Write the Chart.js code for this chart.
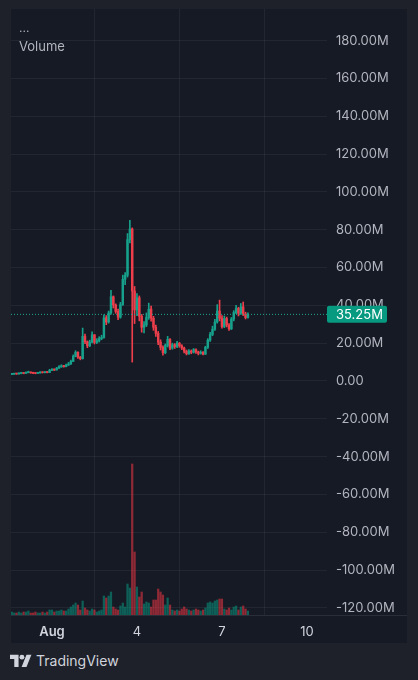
<!DOCTYPE html>
<html>
<head>
<meta charset="utf-8">
<script src="https://cdn.jsdelivr.net/npm/chart.js@4.4.1/dist/chart.umd.min.js"></script>
<style>
  body { margin: 0; width: 418px; height: 680px; overflow: hidden; background: #1e212a; font-family: Inter, "Noto Sans", sans-serif; }
  #panel { position: absolute; left: 11px; top: 9px; width: 396px; height: 634px; background: #161a24; }
  #chart { position: absolute; left: 0; top: 0; }
  .dots { position: absolute; left: 8px; top: 12px; color: #b2b5be; font-size: 12px; line-height: 14px; }
  .title { position: absolute; left: 8px; top: 29px; color: #b2b5be; font-size: 13px; line-height: 16px; }
  .brand { position: absolute; left: 10px; top: 652px; display: flex; align-items: center; color: #d1d4dc; font-size: 14px; }
  .brand svg { margin-right: 4px; }
</style>
</head>
<body>
<div id="panel">
  <canvas id="chart" width="396" height="634"></canvas>
  <div class="dots">...</div>
  <div class="title">Volume</div>
</div>
<div class="brand">
  <svg width="22" height="13" viewBox="0 0 36 21">
    <path d="M14 21H7V8H0V1h14z" fill="#d1d4dc"/>
    <circle cx="19.5" cy="5" r="4" fill="#d1d4dc"/>
    <path d="M27 21h-8L27 1h8z" fill="#d1d4dc"/>
  </svg>
  <span>TradingView</span>
</div>

<script>
// 2-hour candles, x = hours since Aug 1 00:00
const startHour = -34;
const stepHours = 2;

const closes = [
  3.6, 3.8, 3.7, 3.9, 4.2, 4.0, 4.4, 4.6, 4.3, 4.1,
  4.0, 4.3, 4.5, 4.4, 4.6, 4.5, 5.6, 6.0, 5.8, 6.8,
  7.5, 8.0, 7.6, 8.4, 9.0, 10.4, 13.0, 15.2, 12.6, 11.8,
  23.6, 20.8, 18.6, 20.6, 24.4, 20.4, 21.2, 22.4, 23.0, 33.4,
  31.2, 36.0, 44.6, 40.2, 36.8, 33.8, 40.4, 53.8, 56.0, 74.8,
  80.4, 47.6, 37.6, 44.0, 34.2, 28.4, 29.6, 33.6, 38.0, 33.2,
  28.4, 25.2, 20.6, 17.8, 15.0, 18.8, 22.0, 17.4, 19.2, 18.2,
  20.0, 18.6, 17.4, 15.8, 14.4, 15.8, 15.2, 16.6, 15.4, 14.6,
  15.2, 14.2, 17.8, 21.6, 24.6, 27.4, 31.2, 37.0, 33.2, 28.8,
  33.0, 29.6, 27.6, 32.8, 36.2, 38.4, 35.8, 39.2, 35.4, 33.6,
  35.25
];
const highs = [
  4.0, 4.1, 4.0, 4.3, 4.6, 4.4, 4.8, 5.2, 4.7, 4.5,
  4.3, 4.6, 4.8, 4.8, 5.0, 4.9, 6.2, 6.6, 6.4, 7.2,
  8.2, 8.6, 8.3, 9.0, 9.8, 11.0, 13.8, 16.0, 15.4, 13.0,
  28.0, 24.8, 21.2, 21.6, 26.0, 24.6, 22.4, 23.4, 24.2, 35.0,
  34.6, 37.0, 48.0, 45.0, 40.8, 38.0, 41.6, 56.0, 57.4, 78.0,
  85.0, 81.0, 50.0, 46.2, 45.0, 35.2, 31.4, 36.0, 41.2, 39.6,
  34.2, 29.6, 26.2, 21.8, 18.6, 19.6, 23.6, 22.4, 20.0, 19.8,
  21.0, 20.4, 19.2, 18.0, 16.4, 16.6, 16.4, 17.2, 17.0, 15.8,
  16.0, 15.6, 18.4, 22.4, 25.8, 29.0, 32.6, 40.4, 42.8, 34.6,
  34.4, 33.8, 30.4, 33.6, 37.2, 40.0, 39.0, 41.0, 41.8, 36.4,
  36.0
];
const lows = [
  3.4, 3.5, 3.5, 3.6, 3.8, 3.8, 4.0, 4.3, 4.1, 3.9,
  3.8, 4.0, 4.2, 4.2, 4.3, 4.3, 4.5, 5.4, 5.5, 5.8,
  6.7, 7.2, 7.3, 7.5, 8.2, 8.8, 10.2, 12.8, 12.0, 11.2,
  11.6, 19.8, 17.6, 18.2, 20.2, 19.6, 19.8, 20.6, 21.8, 22.6,
  29.8, 30.6, 35.4, 38.6, 35.8, 32.4, 33.2, 40.0, 51.0, 55.0,
  73.0, 10.0, 30.4, 34.6, 31.8, 25.8, 25.4, 28.8, 32.6, 31.6,
  26.8, 23.6, 19.2, 16.4, 13.6, 14.4, 18.0, 16.6, 16.8, 17.2,
  17.6, 17.8, 16.6, 14.8, 13.8, 14.0, 14.4, 14.8, 14.6, 13.8,
  14.2, 13.8, 14.0, 17.2, 21.0, 24.0, 26.8, 30.6, 31.8, 28.0,
  28.2, 28.6, 26.8, 27.2, 31.8, 35.6, 34.4, 35.2, 34.6, 32.8,
  33.2
];
const volumes = [
  3, 2, 2, 3, 2, 3, 3, 4, 2, 2,
  3, 2, 2, 3, 2, 3, 5, 5, 3, 4,
  4, 5, 4, 4, 6, 8, 10, 12, 10, 5,
  14, 7, 5, 4, 6, 5, 3, 4, 5, 19,
  17, 19, 23, 8, 6, 5, 9, 12, 8, 31,
  27, 151, 63, 28, 18, 23, 11, 13, 12, 8,
  15, 15, 26, 23, 20, 10, 17, 10, 5, 4,
  5, 4, 6, 8, 6, 5, 4, 5, 6, 5,
  4, 5, 7, 12, 13, 12, 14, 15, 16, 16,
  6, 5, 7, 5, 8, 9, 5, 8, 9, 6,
  4
];
const firstOpen = 3.5;

const priceTicks = [-120, -100, -80, -60, -40, -20, 0, 20, 40, 60, 80, 100, 120, 140, 160, 180];
const xTickHours = [0, 72, 144, 216];
const xTickLabels = ['Aug', '4', '7', '10'];

const upColor = '#17a08b';
const downColor = '#ec3f4b';
const upVol = 'rgba(8, 153, 129, 0.55)';
const downVol = 'rgba(242, 54, 69, 0.55)';

const hours = closes.map((_, i) => startHour + i * stepHours);
const opens = closes.map((_, i) => i === 0 ? firstOpen : closes[i - 1]);
const isUp = i => closes[i] >= opens[i];
const lastClose = closes[closes.length - 1];

const xMin = -34.7, xMax = 233;

const noPad = s => { s.paddingTop = 0; s.paddingBottom = 0; s.paddingLeft = 0; s.paddingRight = 0; };

const lastPriceBox = {
  id: 'lastPriceBox',
  afterDraw(chart) {
    const { ctx, chartArea, scales } = chart;
    const y = scales.y.getPixelForValue(lastClose);
    ctx.save();
    // separator above the time axis
    ctx.strokeStyle = '#2a2e39';
    ctx.lineWidth = 1;
    ctx.beginPath();
    ctx.moveTo(0, chartArea.bottom + 0.5);
    ctx.lineTo(chart.width, chartArea.bottom + 0.5);
    ctx.stroke();
    // price tag
    ctx.fillStyle = '#089981';
    ctx.beginPath();
    ctx.roundRect(chartArea.right, y - 8.5, 60, 17, 2);
    ctx.fill();
    ctx.fillStyle = '#ffffff';
    ctx.font = '13px Inter, "Noto Sans", sans-serif';
    ctx.textBaseline = 'middle';
    ctx.fillText(lastClose.toFixed(2) + 'M', chartArea.right + 9, y + 0.5);
    ctx.restore();
  }
};

new Chart(document.getElementById('chart'), {
  type: 'bar',
  data: {
    datasets: [
      {
        type: 'line',
        data: [{ x: xMin, y: lastClose }, { x: xMax, y: lastClose }],
        borderColor: '#1fa58f',
        borderWidth: 1,
        borderDash: [1, 2],
        pointRadius: 0,
        order: 0
      },
      {
        data: hours.map((h, i) => ({ x: h, y: [opens[i], closes[i]] })),
        backgroundColor: c => isUp(c.dataIndex) ? upColor : downColor,
        barThickness: 1.8,
        minBarLength: 1,
        grouped: false,
        order: 1
      },
      {
        data: hours.map((h, i) => ({ x: h, y: [lows[i], highs[i]] })),
        backgroundColor: c => isUp(c.dataIndex) ? upColor : downColor,
        barThickness: 1,
        grouped: false,
        order: 2
      },
      {
        data: hours.map((h, i) => ({ x: h, y: volumes[i] })),
        yAxisID: 'yv',
        backgroundColor: c => isUp(c.dataIndex) ? upVol : downVol,
        barThickness: 1.6,
        grouped: false,
        order: 3
      }
    ]
  },
  options: {
    responsive: false,
    animation: false,
    devicePixelRatio: 1,
    layout: { padding: 0 },
    plugins: { legend: { display: false }, tooltip: { enabled: false } },
    scales: {
      x: {
        type: 'linear',
        min: xMin,
        max: xMax,
        offset: false,
        afterBuildTicks: s => { s.ticks = xTickHours.map(v => ({ value: v })); },
        afterFit: s => { s.height = 28; noPad(s); },
        grid: { color: 'rgba(255,255,255,0.055)', drawTicks: false },
        border: { display: false },
        ticks: {
          padding: 9,
          color: '#d1d4dc',
          font: c => ({ family: 'Inter', size: 13, weight: c.tick && c.tick.value === 0 ? '600' : '400' }),
          callback: v => xTickLabels[xTickHours.indexOf(v)]
        }
      },
      y: {
        position: 'right',
        min: -123.8,
        max: 196.8,
        afterBuildTicks: s => { s.ticks = priceTicks.map(v => ({ value: v })); },
        afterFit: s => { s.width = 80; noPad(s); },
        grid: { color: 'rgba(255,255,255,0.055)', drawTicks: false },
        border: { display: false },
        ticks: {
          padding: 9,
          color: '#b2b5be',
          font: { family: 'Inter', size: 13 },
          callback: v => v === 0 ? '0.00' : v.toFixed(2) + 'M'
        }
      },
      yv: {
        display: false,
        min: 0,
        max: 606
      }
    }
  },
  plugins: [lastPriceBox]
});
</script>
</body>
</html>
